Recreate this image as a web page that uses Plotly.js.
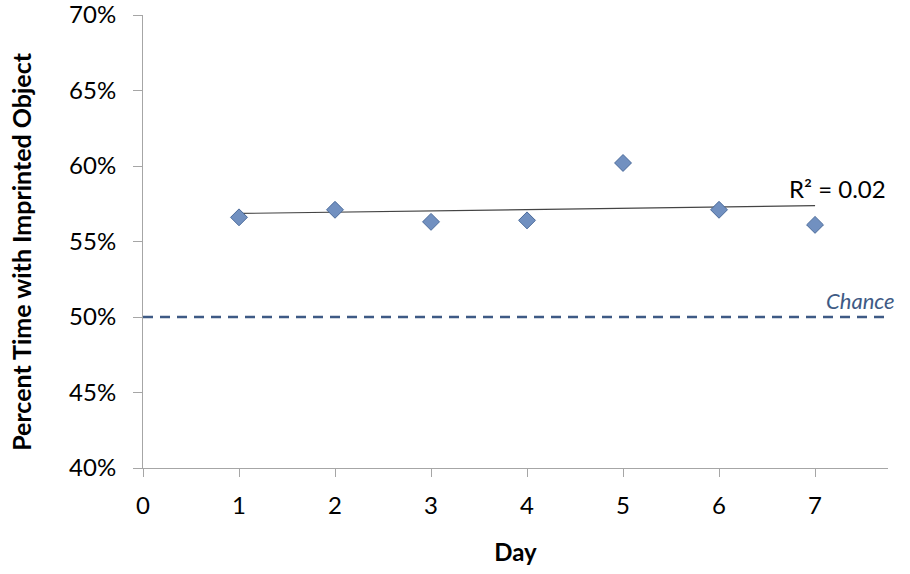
<!DOCTYPE html>
<html>
<head>
<meta charset="utf-8">
<script src="https://cdn.plot.ly/plotly-3.0.1.min.js"></script>
<style>
  html, body { margin: 0; padding: 0; background: #fff; }
  #chart { width: 910px; height: 574px; }
</style>
</head>
<body>
<div id="chart"></div>
<script>
const days = [1, 2, 3, 4, 5, 6, 7];
const percentImprinted = [0.566, 0.571, 0.563, 0.564, 0.602, 0.571, 0.561];
const chanceLevel = 0.5;
const xTickVals = [0, 1, 2, 3, 4, 5, 6, 7];
const yTickVals = [0.40, 0.45, 0.50, 0.55, 0.60, 0.65, 0.70];
const yTickText = ["40%", "45%", "50%", "55%", "60%", "65%", "70%"];

// least-squares fit, like the spreadsheet trendline
function linearFit(xs, ys) {
  const n = xs.length;
  const mx = xs.reduce((a, b) => a + b, 0) / n;
  const my = ys.reduce((a, b) => a + b, 0) / n;
  let sxy = 0, sxx = 0;
  for (let i = 0; i < n; i++) {
    sxy += (xs[i] - mx) * (ys[i] - my);
    sxx += (xs[i] - mx) * (xs[i] - mx);
  }
  const slope = sxy / sxx;
  return { slope, intercept: my - slope * mx };
}

const fit = linearFit(days, percentImprinted);
const trendX = [days[0], days[days.length - 1]];
const trendY = trendX.map(x => fit.intercept + fit.slope * x);

const font = "Lato, 'Open Sans', 'DejaVu Sans', sans-serif";
const axisGray = "#a6a6a6";

const pointsTrace = {
  type: "scatter",
  mode: "markers",
  x: days,
  y: percentImprinted,
  marker: {
    symbol: "diamond",
    size: 13,
    color: "#7190c0",
    line: { color: "#4a6a9a", width: 1 },
  },
  hoverinfo: "x+y",
};

const trendTrace = {
  type: "scatter",
  mode: "lines",
  x: trendX,
  y: trendY,
  line: { color: "#444444", width: 1.2 },
  hoverinfo: "skip",
};

const layout = {
  width: 910,
  height: 574,
  margin: { l: 143, r: 22, t: 15, b: 106 },
  paper_bgcolor: "#ffffff",
  plot_bgcolor: "#ffffff",
  showlegend: false,
  font: { family: font, color: "#000000" },
  xaxis: {
    range: [0, 7.76],
    tickvals: xTickVals,
    ticks: "outside",
    ticklen: 8,
    tickcolor: axisGray,
    ticklabelstandoff: 8,
    showline: true,
    linecolor: axisGray,
    linewidth: 1,
    showgrid: false,
    zeroline: false,
    tickfont: { size: 24, family: font },
    title: { text: "<b>Day</b>", font: { size: 24, family: font }, standoff: 26 },
  },
  yaxis: {
    range: [0.40, 0.70],
    tickvals: yTickVals,
    ticktext: yTickText,
    ticks: "outside",
    ticklen: 9,
    tickcolor: axisGray,
    ticklabelstandoff: 12,
    ticklabeloverflow: "allow",
    showline: true,
    linecolor: axisGray,
    linewidth: 1,
    showgrid: false,
    zeroline: false,
    tickfont: { size: 24, family: font },
  },
  shapes: [
    {
      type: "line",
      xref: "paper",
      yref: "y",
      x0: 0,
      x1: 1,
      y0: chanceLevel,
      y1: chanceLevel,
      line: { color: "#3e5a85", width: 2.5, dash: "10px,7px" },
    },
  ],
  annotations: [
    {
      // y title, sits a little below the axis centre as in the original
      xref: "paper",
      yref: "paper",
      x: -0.164,
      y: 0.479,
      xanchor: "center",
      yanchor: "middle",
      textangle: -90,
      text: "<b>Percent Time with Imprinted Object</b>",
      showarrow: false,
      font: { size: 25, family: font, color: "#000000" },
    },
    {
      xref: "paper",
      yref: "y",
      x: 1,
      y: 0.5745,
      xanchor: "right",
      yanchor: "bottom",
      text: "R² = 0.02",
      showarrow: false,
      font: { size: 24, family: font, color: "#000000" },
    },
    {
      xref: "paper",
      yref: "y",
      x: 1.012,
      y: 0.5,
      xanchor: "right",
      yanchor: "bottom",
      yshift: 1,
      text: "<i>Chance</i>",
      showarrow: false,
      font: { size: 22, family: font, color: "#3e5a85" },
    },
  ],
};

Plotly.newPlot("chart", [trendTrace, pointsTrace], layout, { displayModeBar: false, staticPlot: true });
</script>
</body>
</html>
